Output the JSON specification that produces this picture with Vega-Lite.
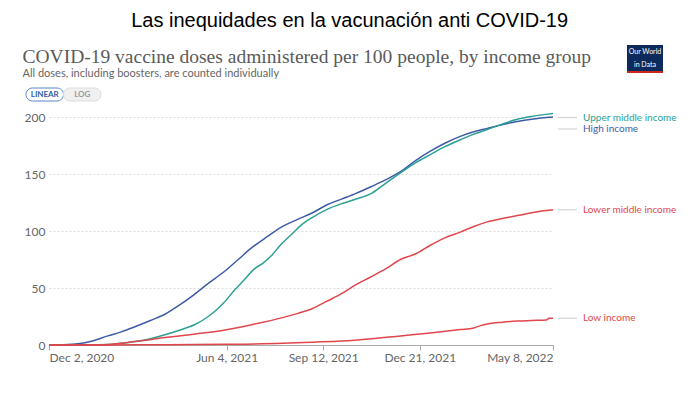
{
  "$schema": "https://vega.github.io/schema/vega-lite/v6.json",
  "background": "white",
  "padding": {"left": 22, "top": 11, "right": 5, "bottom": 5},
  "config": {"view": {"stroke": null}, "font": "Lato"},
  "title": {"text": "Las inequidades en la vacunación anti COVID-19", "font": "Liberation Sans", "fontSize": 20, "fontWeight": "normal", "color": "#000000", "anchor": "middle", "offset": 14},
  "datasets": {
    "doses": [
      {"date": "2020-12-02", "group": "High income", "value": 0},
      {"date": "2020-12-17", "group": "High income", "value": 0.2},
      {"date": "2021-01-01", "group": "High income", "value": 1},
      {"date": "2021-01-16", "group": "High income", "value": 3.5},
      {"date": "2021-02-01", "group": "High income", "value": 8},
      {"date": "2021-02-15", "group": "High income", "value": 11.5},
      {"date": "2021-03-01", "group": "High income", "value": 16},
      {"date": "2021-03-17", "group": "High income", "value": 21.5},
      {"date": "2021-04-01", "group": "High income", "value": 27},
      {"date": "2021-04-16", "group": "High income", "value": 35},
      {"date": "2021-05-01", "group": "High income", "value": 44},
      {"date": "2021-05-16", "group": "High income", "value": 54},
      {"date": "2021-06-01", "group": "High income", "value": 64},
      {"date": "2021-06-16", "group": "High income", "value": 75},
      {"date": "2021-07-01", "group": "High income", "value": 86},
      {"date": "2021-07-16", "group": "High income", "value": 95},
      {"date": "2021-08-01", "group": "High income", "value": 104},
      {"date": "2021-08-16", "group": "High income", "value": 110},
      {"date": "2021-09-01", "group": "High income", "value": 116},
      {"date": "2021-09-16", "group": "High income", "value": 123},
      {"date": "2021-10-01", "group": "High income", "value": 128},
      {"date": "2021-10-16", "group": "High income", "value": 133},
      {"date": "2021-11-01", "group": "High income", "value": 139},
      {"date": "2021-11-16", "group": "High income", "value": 145},
      {"date": "2021-12-01", "group": "High income", "value": 152},
      {"date": "2021-12-17", "group": "High income", "value": 162},
      {"date": "2022-01-01", "group": "High income", "value": 170},
      {"date": "2022-01-16", "group": "High income", "value": 177},
      {"date": "2022-02-01", "group": "High income", "value": 183},
      {"date": "2022-02-15", "group": "High income", "value": 187},
      {"date": "2022-03-01", "group": "High income", "value": 190},
      {"date": "2022-03-17", "group": "High income", "value": 193.5},
      {"date": "2022-04-01", "group": "High income", "value": 196},
      {"date": "2022-04-16", "group": "High income", "value": 198},
      {"date": "2022-05-01", "group": "High income", "value": 199.5},
      {"date": "2022-05-08", "group": "High income", "value": 200},

      {"date": "2020-12-02", "group": "Upper middle income", "value": 0},
      {"date": "2021-01-01", "group": "Upper middle income", "value": 0.2},
      {"date": "2021-02-01", "group": "Upper middle income", "value": 0.5},
      {"date": "2021-02-15", "group": "Upper middle income", "value": 1.5},
      {"date": "2021-03-01", "group": "Upper middle income", "value": 3},
      {"date": "2021-03-17", "group": "Upper middle income", "value": 5.5},
      {"date": "2021-04-01", "group": "Upper middle income", "value": 9},
      {"date": "2021-04-16", "group": "Upper middle income", "value": 13},
      {"date": "2021-05-01", "group": "Upper middle income", "value": 17.5},
      {"date": "2021-05-16", "group": "Upper middle income", "value": 25},
      {"date": "2021-05-26", "group": "Upper middle income", "value": 32},
      {"date": "2021-06-01", "group": "Upper middle income", "value": 37},
      {"date": "2021-06-12", "group": "Upper middle income", "value": 48},
      {"date": "2021-06-22", "group": "Upper middle income", "value": 57},
      {"date": "2021-07-03", "group": "Upper middle income", "value": 67},
      {"date": "2021-07-12", "group": "Upper middle income", "value": 72},
      {"date": "2021-07-20", "group": "Upper middle income", "value": 78},
      {"date": "2021-07-30", "group": "Upper middle income", "value": 88},
      {"date": "2021-08-09", "group": "Upper middle income", "value": 96},
      {"date": "2021-08-20", "group": "Upper middle income", "value": 105},
      {"date": "2021-09-01", "group": "Upper middle income", "value": 112},
      {"date": "2021-09-16", "group": "Upper middle income", "value": 119},
      {"date": "2021-10-01", "group": "Upper middle income", "value": 124},
      {"date": "2021-10-16", "group": "Upper middle income", "value": 128},
      {"date": "2021-11-01", "group": "Upper middle income", "value": 133},
      {"date": "2021-11-16", "group": "Upper middle income", "value": 142},
      {"date": "2021-12-01", "group": "Upper middle income", "value": 151},
      {"date": "2021-12-17", "group": "Upper middle income", "value": 160},
      {"date": "2022-01-01", "group": "Upper middle income", "value": 167},
      {"date": "2022-01-16", "group": "Upper middle income", "value": 174},
      {"date": "2022-02-01", "group": "Upper middle income", "value": 180},
      {"date": "2022-02-15", "group": "Upper middle income", "value": 185},
      {"date": "2022-03-01", "group": "Upper middle income", "value": 189},
      {"date": "2022-03-17", "group": "Upper middle income", "value": 194},
      {"date": "2022-04-01", "group": "Upper middle income", "value": 198},
      {"date": "2022-04-16", "group": "Upper middle income", "value": 200.5},
      {"date": "2022-05-01", "group": "Upper middle income", "value": 202.3},
      {"date": "2022-05-08", "group": "Upper middle income", "value": 203},

      {"date": "2020-12-02", "group": "Lower middle income", "value": 0},
      {"date": "2021-01-01", "group": "Lower middle income", "value": 0.1},
      {"date": "2021-02-01", "group": "Lower middle income", "value": 0.5},
      {"date": "2021-03-01", "group": "Lower middle income", "value": 3},
      {"date": "2021-04-01", "group": "Lower middle income", "value": 6.5},
      {"date": "2021-05-01", "group": "Lower middle income", "value": 9.5},
      {"date": "2021-06-01", "group": "Lower middle income", "value": 13},
      {"date": "2021-07-01", "group": "Lower middle income", "value": 18},
      {"date": "2021-08-01", "group": "Lower middle income", "value": 24},
      {"date": "2021-08-16", "group": "Lower middle income", "value": 27.5},
      {"date": "2021-09-01", "group": "Lower middle income", "value": 32},
      {"date": "2021-09-16", "group": "Lower middle income", "value": 38.5},
      {"date": "2021-10-01", "group": "Lower middle income", "value": 45},
      {"date": "2021-10-16", "group": "Lower middle income", "value": 53},
      {"date": "2021-11-01", "group": "Lower middle income", "value": 60},
      {"date": "2021-11-16", "group": "Lower middle income", "value": 67},
      {"date": "2021-12-01", "group": "Lower middle income", "value": 75},
      {"date": "2021-12-17", "group": "Lower middle income", "value": 80},
      {"date": "2022-01-01", "group": "Lower middle income", "value": 87.5},
      {"date": "2022-01-16", "group": "Lower middle income", "value": 94},
      {"date": "2022-02-01", "group": "Lower middle income", "value": 99},
      {"date": "2022-02-15", "group": "Lower middle income", "value": 104},
      {"date": "2022-03-01", "group": "Lower middle income", "value": 108},
      {"date": "2022-03-17", "group": "Lower middle income", "value": 111},
      {"date": "2022-04-01", "group": "Lower middle income", "value": 113.5},
      {"date": "2022-04-16", "group": "Lower middle income", "value": 116},
      {"date": "2022-05-01", "group": "Lower middle income", "value": 118},
      {"date": "2022-05-08", "group": "Lower middle income", "value": 118.6},

      {"date": "2020-12-02", "group": "Low income", "value": 0},
      {"date": "2021-02-01", "group": "Low income", "value": 0.1},
      {"date": "2021-04-01", "group": "Low income", "value": 0.2},
      {"date": "2021-06-01", "group": "Low income", "value": 0.6},
      {"date": "2021-08-01", "group": "Low income", "value": 1.5},
      {"date": "2021-09-01", "group": "Low income", "value": 2.5},
      {"date": "2021-10-01", "group": "Low income", "value": 3.5},
      {"date": "2021-11-01", "group": "Low income", "value": 5.5},
      {"date": "2021-12-01", "group": "Low income", "value": 8},
      {"date": "2022-01-01", "group": "Low income", "value": 10.5},
      {"date": "2022-02-01", "group": "Low income", "value": 13.5},
      {"date": "2022-02-15", "group": "Low income", "value": 15},
      {"date": "2022-02-22", "group": "Low income", "value": 17},
      {"date": "2022-03-01", "group": "Low income", "value": 18.5},
      {"date": "2022-03-17", "group": "Low income", "value": 20},
      {"date": "2022-04-01", "group": "Low income", "value": 21},
      {"date": "2022-04-16", "group": "Low income", "value": 21.5},
      {"date": "2022-05-01", "group": "Low income", "value": 22},
      {"date": "2022-05-04", "group": "Low income", "value": 23.5},
      {"date": "2022-05-08", "group": "Low income", "value": 23.5}
    ]
  },
  "spacing": 8,
  "vconcat": [
    {
      "spacing": 34,
      "hconcat": [
        {
          "title": {
            "text": "COVID-19 vaccine doses administered per 100 people, by income group",
            "subtitle": "All doses, including boosters, are counted individually",
            "anchor": "start",
            "dx": -3,
            "font": "Liberation Serif",
            "fontSize": 19.5,
            "fontWeight": "normal",
            "color": "#5a5a5a",
            "subtitleFont": "Lato",
            "subtitleFontSize": 11,
            "subtitleColor": "#666666",
            "subtitlePadding": 0,
            "offset": 8
          },
          "data": {"values": [{"scale": "LINEAR"}, {"scale": "LOG"}]},
          "width": 75,
          "height": 13,
          "encoding": {
            "x": {"field": "scale", "type": "nominal", "sort": null, "axis": null, "scale": {"paddingInner": 0, "paddingOuter": 0, "range": [-23, 52]}}
          },
          "layer": [
            {
              "mark": {"type": "rect", "cornerRadius": 7, "strokeWidth": 1},
              "encoding": {
                "fill": {"condition": {"test": "datum.scale == 'LINEAR'", "value": "#ffffff"}, "value": "#f0f0f0"},
                "stroke": {"condition": {"test": "datum.scale == 'LINEAR'", "value": "#5b86c7"}, "value": "#dddddd"}
              }
            },
            {
              "mark": {"type": "text", "fontSize": 8, "fontWeight": "bold", "font": "Lato"},
              "encoding": {
                "text": {"field": "scale", "type": "nominal"},
                "color": {"condition": {"test": "datum.scale == 'LINEAR'", "value": "#2f5fa8"}, "value": "#999999"}
              }
            }
          ]
        },
        {
          "data": {"values": [{"line": "Our World"}, {"line": "in Data"}]},
          "width": 36,
          "height": 13,
          "encoding": {
            "y": {"field": "line", "type": "nominal", "sort": null, "axis": null, "scale": {"paddingInner": 0, "paddingOuter": 0, "range": [-43, -17]}}
          },
          "layer": [
            {
              "mark": {"type": "rect", "color": "#0d2a5c"}
            },
            {
              "mark": {"type": "text", "color": "white", "fontSize": 7, "font": "Lato"},
              "encoding": {"text": {"field": "line", "type": "nominal"}}
            },
            {
              "transform": [{"filter": "datum.line == 'in Data'"}],
              "mark": {"type": "rule", "color": "#ce261e", "strokeWidth": 2, "yOffset": 1},
              "encoding": {"y": {"field": "line", "type": "nominal", "bandPosition": 1}}
            }
          ]
        }
      ]
    },
    {
      "data": {"name": "doses"},
      "width": 504,
      "height": 228,
      "encoding": {
        "x": {
          "field": "date", "type": "temporal",
          "scale": {"type": "utc", "domain": [{"year": 2020, "month": 12, "date": 2, "utc": true}, {"year": 2022, "month": 5, "date": 8, "utc": true}]},
          "axis": {
            "title": null,
            "values": [
              {"year": 2020, "month": 12, "date": 2, "utc": true},
              {"year": 2021, "month": 6, "date": 4, "utc": true},
              {"year": 2021, "month": 9, "date": 12, "utc": true},
              {"year": 2021, "month": 12, "date": 21, "utc": true},
              {"year": 2022, "month": 5, "date": 8, "utc": true}
            ],
            "labelExpr": "utcFormat(datum.value, '%b %-d, %Y')",
            "labelFlush": true,
            "grid": false,
            "domainColor": "#aaaaaa",
            "tickColor": "#aaaaaa",
            "tickSize": 5,
            "labelColor": "#666666",
            "labelFontSize": 12,
            "labelFont": "Lato",
            "labelPadding": 2
          }
        },
        "y": {
          "field": "value", "type": "quantitative",
          "scale": {"domain": [0, 200], "nice": false},
          "axis": {
            "title": null,
            "values": [0, 50, 100, 150, 200],
            "domain": false,
            "ticks": false,
            "gridDash": [2, 2],
            "gridColor": "#dddddd",
            "labelColor": "#666666",
            "labelFontSize": 12,
            "labelFont": "Lato",
            "labelPadding": 4
          }
        },
        "color": {
          "field": "group", "type": "nominal",
          "scale": {"domain": ["High income", "Upper middle income", "Lower middle income", "Low income"], "range": ["#3d5ba6", "#2ba094", "#e0464b", "#e0464b"]},
          "legend": null
        }
      },
      "layer": [
        {"mark": {"type": "line", "strokeWidth": 1.5, "interpolate": "monotone"}},
        {
          "transform": [{"filter": "time(datum.date) == utc(2022,4,8) && (datum.group == 'Lower middle income' || datum.group == 'Low income')"}],
          "layer": [
            {"mark": {"type": "rule", "xOffset": 5, "x2Offset": 24, "strokeWidth": 1}, "encoding": {"x2": {"field": "date"}, "color": {"value": "#cccccc"}}},
            {"mark": {"type": "text", "align": "left", "baseline": "middle", "dx": 30, "fontSize": 10, "font": "Lato"}, "encoding": {"text": {"field": "group"}}}
          ]
        },
        {
          "transform": [{"filter": "time(datum.date) == utc(2022,4,8) && datum.group == 'Upper middle income'"}],
          "layer": [
            {"mark": {"type": "rule", "xOffset": 5, "x2Offset": 24, "yOffset": 4, "strokeWidth": 1}, "encoding": {"x2": {"field": "date"}, "color": {"value": "#cccccc"}}},
            {"mark": {"type": "text", "align": "left", "baseline": "middle", "dx": 30, "dy": 4, "fontSize": 10, "font": "Lato"}, "encoding": {"text": {"field": "group"}}}
          ]
        },
        {
          "transform": [{"filter": "time(datum.date) == utc(2022,4,8) && datum.group == 'High income'"}],
          "layer": [
            {"mark": {"type": "rule", "xOffset": 5, "x2Offset": 24, "yOffset": 12, "strokeWidth": 1}, "encoding": {"x2": {"field": "date"}, "color": {"value": "#cccccc"}}},
            {"mark": {"type": "text", "align": "left", "baseline": "middle", "dx": 30, "dy": 12, "fontSize": 10, "font": "Lato"}, "encoding": {"text": {"field": "group"}}}
          ]
        }
      ]
    }
  ]
}
